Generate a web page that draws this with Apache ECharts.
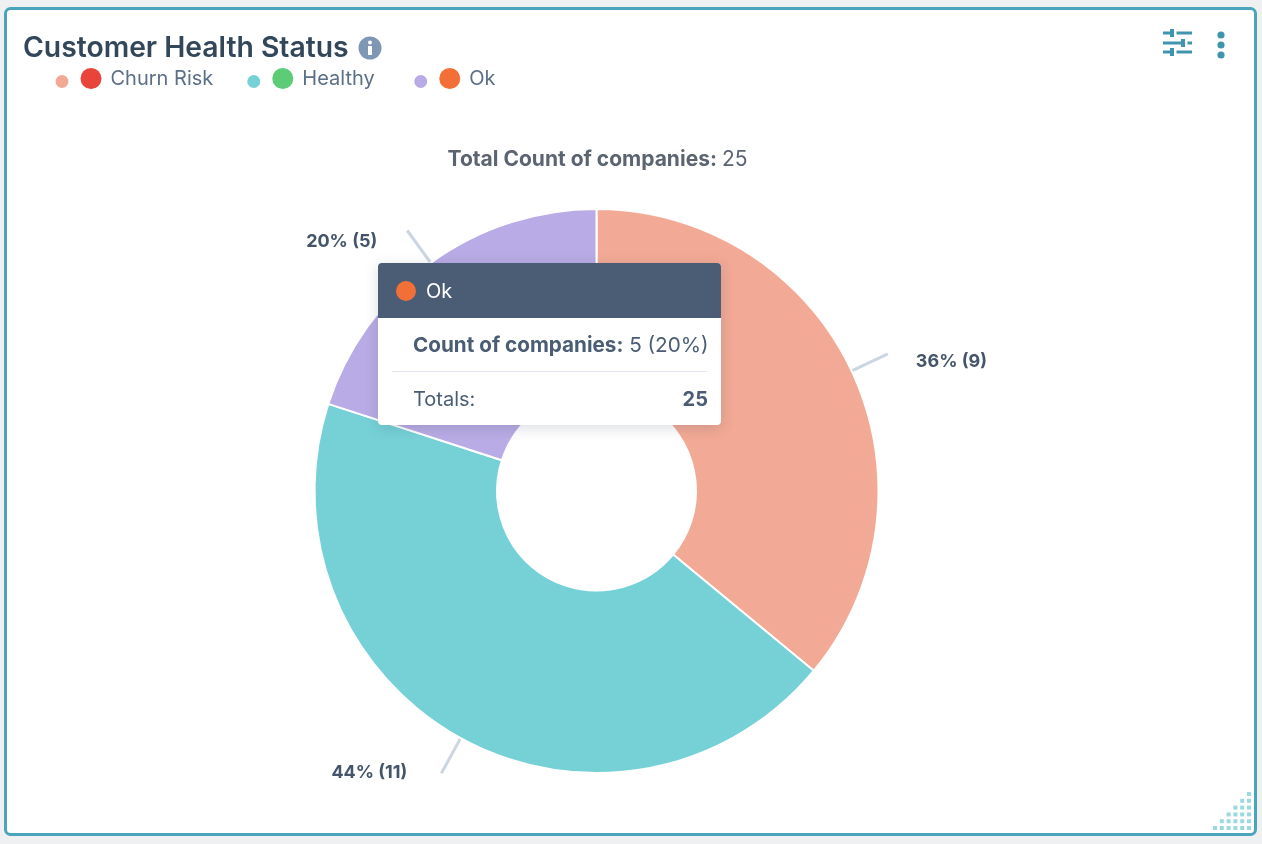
<!DOCTYPE html>
<html>
<head>
<meta charset="utf-8">
<title>Customer Health Status</title>
<style>
  html, body { margin: 0; padding: 0; background: #eef0f2; }
  #chart { width: 1262px; height: 844px; }
</style>
<script src="https://cdn.jsdelivr.net/npm/echarts@6/dist/echarts.min.js"></script>
</head>
<body>
<div id="chart"></div>
<script>
const categories = ["Churn Risk", "Healthy", "Ok"];
const counts = [9, 11, 5];
const percents = [36, 44, 20];
const sliceColors = ["#f2a995", "#76d1d7", "#b9abe5"];
const statusColors = ["#e8443a", "#5ccd76", "#f27038"];
const total = 25;

const FONT = "Inter";
const DARK = "#33475b";
const TEAL = "#3f95ad";

// dots in the bottom right corner of the card
const cornerDots = [];
for (let row = 0; row < 6; row++) {
  for (let col = 0; col <= row; col++) {
    cornerDots.push({
      type: "rect",
      shape: { x: 1247 - col * 6.8, y: 826 - (5 - row) * 6.8, width: 4, height: 4 },
      style: { fill: "#9bd9e2" },
    });
  }
}

// the little slider icon, top right
const sliderIcon = [
  [1163, 33, 1192, 33], [1163, 43, 1192, 43], [1163, 52, 1192, 52],
].map(([x1, y1, x2, y2]) => ({
  type: "line",
  shape: { x1, y1, x2, y2 },
  style: { stroke: TEAL, lineWidth: 3 },
}));
const sliderGaps = [[1175, 33], [1186, 43], [1175, 52]].map(([x, y]) => ({
  type: "rect",
  shape: { x: x - 1.5, y: y - 3, width: 3, height: 6 },
  style: { fill: "#fff" },
}));
const sliderKnobs = [[1172, 33], [1183, 43], [1172, 52]].map(([x, y]) => ({
  type: "rect",
  shape: { x: x - 2, y: y - 4, width: 4, height: 8 },
  style: { fill: TEAL },
}));
const kebab = [35, 45, 55].map((y) => ({
  type: "circle",
  shape: { cx: 1221, cy: y, r: 3.6 },
  style: { fill: TEAL },
}));

const chart = echarts.init(document.getElementById("chart"));

const richDots = {};
statusColors.forEach((c, i) => {
  richDots["dot" + i] = { width: 21, height: 21, borderRadius: 10.5, backgroundColor: c };
});

// nudges for the pie labels
const labelNudge = [[2, 7.5], [-8, -0.7], [-4, 11]];

chart.setOption({
  animation: false,
  backgroundColor: "#eef0f2",
  title: [
    {
      text: "Customer Health Status",
      left: 18,
      top: 29,
      textStyle: { fontFamily: FONT, fontSize: 28.3, fontWeight: 600, color: DARK },
    },
    {
      text: "{b|Total Count of companies:} {n|" + total + "}",
      left: 592.5,
      top: 144,
      textAlign: "center",
      textStyle: {
        rich: {
          b: { fontFamily: FONT, fontSize: 21, fontWeight: 700, color: "#5b6470" },
          n: { fontFamily: FONT, fontSize: 21, fontWeight: 400, color: "#5b6470" },
        },
      },
    },
  ],
  legend: {
    left: 48.5,
    top: 63,
    icon: "circle",
    itemWidth: 15,
    itemHeight: 15,
    itemGap: 32,
    selectedMode: false,
    data: categories,
    formatter: (name) => {
      const i = categories.indexOf(name);
      // Healthy gets a spacer after it, the gaps are not even in the original
      return "{sp|}{dot" + i + "|}{name|" + name + "}" + (i === 1 ? "{end| }" : "");
    },
    textStyle: {
      padding: [0, 0, 6, 0],
      rich: {
        sp: { width: 6 },
        end: { width: 5, fontSize: 20 },
        ...richDots,
        name: { fontFamily: FONT, fontSize: 20, color: "#5b6f87", padding: [0, 0, 0, 9] },
      },
    },
  },
  tooltip: {
    trigger: "item",
    alwaysShowContent: true,
    showDelay: 0,
    transitionDuration: 0,
    position: [378, 263],
    padding: 0,
    borderWidth: 0,
    backgroundColor: "#fff",
    extraCssText: "width:343px;height:162px;border-radius:4px;overflow:hidden;box-shadow:0 3px 14px rgba(45,62,80,.18);",
    formatter: (p) => {
      const i = p.dataIndex;
      return (
        '<div style="font-family:' + FONT + ';">' +
        '<div style="height:55px;background:#4a5d75;color:#fff;font-size:20px;line-height:57px;padding-left:18px;">' +
        '<span style="display:inline-block;width:20px;height:20px;border-radius:50%;vertical-align:-3px;margin-right:10px;background:' + statusColors[i] + '"></span>' +
        categories[i] + "</div>" +
        '<div style="padding:14px 13px 0 35px;font-size:20.7px;line-height:26px;color:#4a5d75;white-space:nowrap;"><b>Count of companies:</b> ' +
        counts[i] + " (" + percents[i] + "%)</div>" +
        '<div style="margin:13px 14px 0 14px;border-top:1px solid #dfe3eb;"></div>' +
        '<div style="display:flex;justify-content:space-between;padding:14px 13px 0 35px;font-size:20px;line-height:26px;color:#4a5d75;"><span>Totals:</span><b>' +
        total + "</b></div></div>"
      );
    },
  },
  series: [
    {
      type: "pie",
      center: [596.5, 491],
      radius: [99.5, 282],
      startAngle: 90,
      clockwise: true,
      data: categories.map((name, i) => ({
        name,
        value: counts[i],
        itemStyle: { color: sliceColors[i] },
      })),
      itemStyle: { borderColor: "#fff", borderWidth: 2 },
      emphasis: { scale: false },
      label: {
        formatter: (p) => percents[p.dataIndex] + "% (" + counts[p.dataIndex] + ")",
        fontFamily: FONT,
        fontSize: 18,
        fontWeight: 700,
        color: "#43546b",
        distanceToLabelLine: 26,
      },
      labelLayout: (p) => ({ dx: labelNudge[p.dataIndex][0], dy: labelNudge[p.dataIndex][1] }),
      labelLine: {
        show: true,
        length: 40,
        length2: 0,
        lineStyle: { color: "#cbd6e2", width: 3 },
      },
    },
  ],
  graphic: [
    // card outline sits under the pie
    {
      type: "rect",
      z: -10,
      shape: { x: 5.5, y: 8.5, width: 1250, height: 826, r: 5 },
      style: { fill: "#fff", stroke: "#4aa5bc", lineWidth: 3 },
    },
    {
      type: "group",
      children: [
        { type: "circle", shape: { cx: 370, cy: 48, r: 11.5 }, style: { fill: "#7f97b5" } },
        { type: "circle", shape: { cx: 370, cy: 42.5, r: 2 }, style: { fill: "#fff" } },
        { type: "rect", shape: { x: 368, y: 46, width: 4, height: 9 }, style: { fill: "#fff" } },
        ...sliderIcon,
        ...sliderGaps,
        ...sliderKnobs,
        ...kebab,
        ...cornerDots,
      ],
    },
  ],
});

chart.dispatchAction({ type: "showTip", seriesIndex: 0, dataIndex: 2 });
</script>
</body>
</html>
